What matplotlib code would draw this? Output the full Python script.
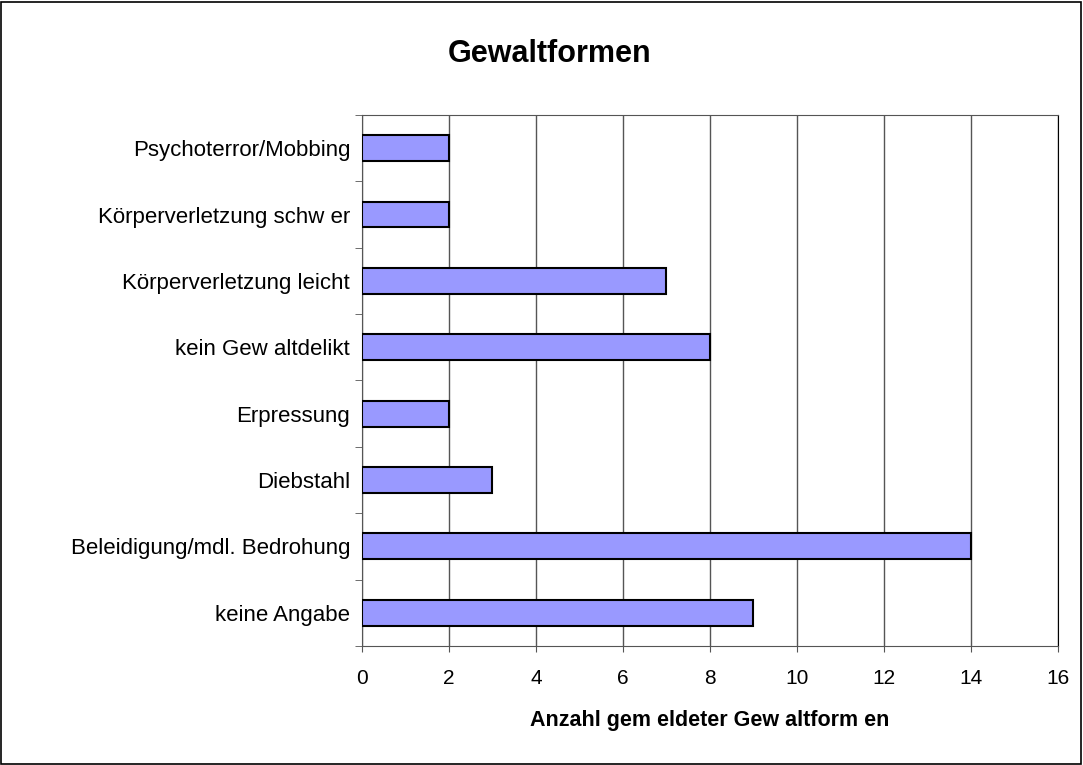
import matplotlib
matplotlib.use("Agg")
import matplotlib.pyplot as plt
import numpy as np
from matplotlib.patches import Rectangle

plt.rcParams['font.family'] = ['Liberation Sans', 'DejaVu Sans']

# categories from bottom to top
categories = [
    "keine Angabe",
    "Beleidigung/mdl. Bedrohung",
    "Diebstahl",
    "Erpressung",
    "kein Gew altdelikt",
    "Körperverletzung leicht",
    "Körperverletzung schw er",
    "Psychoterror/Mobbing",
]
counts = [9, 14, 3, 2, 8, 7, 2, 2]
x_ticks = [0, 2, 4, 6, 8, 10, 12, 14, 16]

fig = plt.figure(figsize=(10.83, 7.65), dpi=100)
ax = fig.add_axes([0.3343, 0.1556, 0.6422, 0.6941])

ypos = np.arange(len(categories))
ax.barh(ypos, counts, height=0.39, color='#9999FF', edgecolor='black',
        linewidth=1.5, zorder=3)

ax.set_xlim(0, 16)
ax.set_ylim(-0.5, len(categories) - 0.5)
ax.set_xticks(x_ticks)
ax.set_xticklabels([str(t) for t in x_ticks], fontsize=15)
ax.xaxis.grid(True, color='#555555', linewidth=1, zorder=0)

# category labels centred, ticks on boundaries
ax.set_yticks(ypos)
ax.set_yticklabels(categories, fontsize=16)
ax.tick_params(axis='y', which='major', length=0, pad=8.5)
ax.set_yticks(np.arange(-0.5, len(categories)), minor=True)
ax.tick_params(axis='y', which='minor', length=5, color='#555555')
ax.tick_params(axis='x', length=4.3, color='#555555', pad=12)

for s in ['left', 'bottom', 'top']:
    ax.spines[s].set_color('#555555')
ax.spines['right'].set_color('black')

ax.set_xlabel("Anzahl gem eldeter Gew altform en", fontsize=15.5,
              fontweight='bold', labelpad=16)
fig.text(0.507, 0.929, "Gewaltformen", fontsize=22, fontweight='bold',
         ha='center', va='center')

fig.patches.append(Rectangle((0.001, 0.001), 0.997, 0.997, transform=fig.transFigure,
                             fill=False, edgecolor='black', linewidth=1.2))

fig.savefig("out.png", dpi=100)
